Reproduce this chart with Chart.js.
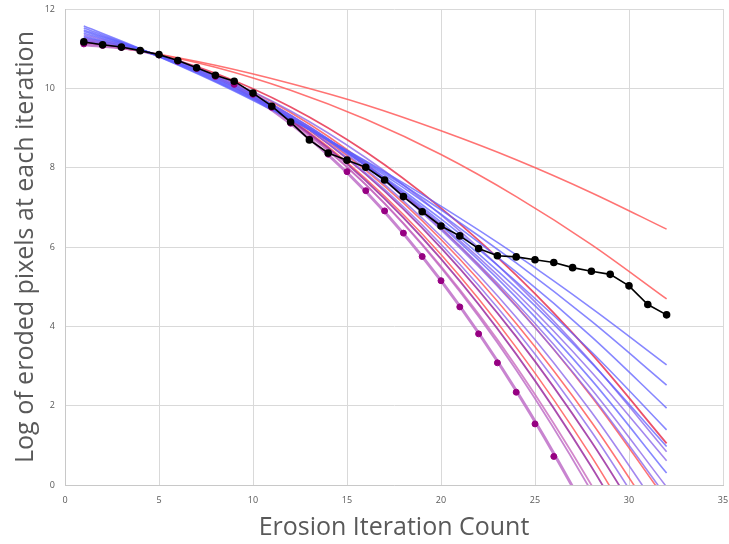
<!DOCTYPE html>
<html>
<head>
<meta charset="utf-8">
<script src="https://cdn.jsdelivr.net/npm/chart.js@4/dist/chart.umd.min.js"></script>
<style>
  html, body { margin: 0; padding: 0; background: #ffffff; }
  #wrap { width: 729px; height: 544px; position: relative; }
</style>
</head>
<body>
<div id="wrap"><canvas id="chart" width="729" height="544"></canvas></div>
<script>
// Erosion iterations and the measured log pixel counts
const iterations = [1,2,3,4,5,6,7,8,9,10,11,12,13,14,15,16,17,18,19,20,21,22,23,24,25,26,27,28,29,30,31,32];
const measuredA = [11.17,11.10,11.04,10.95,10.85,10.70,10.52,10.33,10.18,9.88,9.55,9.15,8.70,8.37,8.19,8.01,7.69,7.27,6.89,6.53,6.28,5.96,5.78,5.75,5.68,5.61,5.48,5.39,5.31,5.02,4.55,4.29];
const measuredB = [11.12,11.08,11.03,10.95,10.84,10.68,10.50,10.30,10.10,9.85,9.52,9.12,8.72,8.34,7.90,7.42,6.91,6.35,5.76,5.15,4.49,3.81,3.08,2.34,1.54,0.72];

// Fitted curves, sampled at these iteration counts
const fitX = [1,4,8,12,16,20,24,28,32];
const fitRed1    = [11.15,10.94,10.58,10.12,9.58,8.93,8.20,7.37,6.45];
const fitRed2    = [11.15,10.94,10.53,9.95,9.22,8.33,7.27,6.06,4.69];
const fitRed3    = [11.20,10.96,10.38,9.53,8.40,6.98,5.29,3.31,1.05];
const fitRed4    = [11.20,10.96,10.34,9.39,8.10,6.48,4.52,2.23,-0.40];
const fitRed5    = [11.18,10.96,10.30,9.22,7.72,5.81,3.47,0.72,-2.46];
const fitRed6    = [11.20,10.96,10.32,9.31,7.93,6.19,4.07,1.59,-1.26];
const fitBlue1   = [11.57,11.00,10.16,9.21,8.17,7.03,5.80,4.46,3.03];
const fitBlue2   = [11.52,10.99,10.18,9.23,8.15,6.94,5.60,4.13,2.52];
const fitBlue3   = [11.47,10.99,10.20,9.24,8.12,6.83,5.37,3.74,1.94];
const fitBlue4   = [11.43,10.99,10.22,9.25,8.08,6.71,5.13,3.36,1.39];
const fitBlue5   = [11.39,10.98,10.24,9.26,8.06,6.63,4.97,3.08,0.97];
const fitBlue6   = [11.35,10.98,10.26,9.28,8.05,6.57,4.84,2.85,0.61];
const fitBlue7   = [11.31,10.97,10.28,9.31,8.06,6.54,4.73,2.65,0.30];
const fitBlue8   = [11.28,10.97,10.29,9.31,8.04,6.47,4.59,2.42,-0.05];
const fitBlue9   = [11.25,10.96,10.31,9.33,8.04,6.43,4.50,2.26,-0.30];
const fitBlue10  = [11.22,10.96,10.31,9.32,7.97,6.27,4.23,1.84,-0.90];
const fitViolet1 = [11.20,10.96,10.31,9.28,7.86,6.07,3.90,1.35,-1.59];
const fitViolet2 = [11.18,10.96,10.31,9.27,7.83,5.98,3.74,1.09,-1.95];
const fitViolet3 = [11.15,10.96,10.29,9.17,7.57,5.51,2.99,0.00,-3.45];
const fitViolet4 = [11.12,10.95,10.31,9.18,7.57,5.48,2.90,-0.16,-3.71];
const fitViolet5 = [11.10,10.95,10.30,9.11,7.40,5.15,2.38,-0.92,-4.75];
const fitViolet6 = [11.26,10.96,10.33,9.43,8.25,6.81,5.09,3.10,0.84];
const fitViolet7 = [11.17,10.96,10.30,9.20,7.67,5.70,3.30,0.46,-2.81];

const xTicks = [0,5,10,15,20,25,30,35];
const yTicks = [0,2,4,6,8,10,12];

// line colours for the fitted curves
const RED = 'rgba(255,90,90,0.85)';
const CRIMSON = 'rgba(232,50,80,0.85)';
const BLUE = 'rgba(95,95,255,0.75)';
const LAVENDER = 'rgba(140,105,235,0.8)';
const PURPLE = 'rgba(155,45,160,0.85)';
const PINK = 'rgba(200,105,190,0.8)';
const ORCHID = 'rgba(190,110,200,0.85)';

const fits = [
  [fitBlue1, BLUE, 1.6], [fitBlue2, BLUE, 1.6], [fitBlue3, BLUE, 1.6], [fitBlue4, BLUE, 1.6],
  [fitBlue5, BLUE, 1.6], [fitBlue6, LAVENDER, 1.6], [fitBlue7, BLUE, 1.6], [fitBlue8, LAVENDER, 1.6],
  [fitBlue9, LAVENDER, 1.6], [fitBlue10, LAVENDER, 1.6],
  [fitViolet6, LAVENDER, 1.6], [fitViolet1, LAVENDER, 1.6], [fitViolet2, PURPLE, 1.8],
  [fitViolet7, PURPLE, 1.8], [fitViolet3, PINK, 1.8], [fitViolet4, ORCHID, 1.8], [fitViolet5, ORCHID, 3],
  [fitRed1, RED, 1.6], [fitRed2, RED, 1.6], [fitRed3, CRIMSON, 1.8], [fitRed4, RED, 1.6],
  [fitRed5, RED, 1.6], [fitRed6, RED, 1.6]
];

const toPoints = (xs, ys) => ys.map((y, i) => ({ x: xs[i], y }));

const datasets = [
  {
    label: 'Series A',
    data: toPoints(iterations, measuredA),
    borderColor: '#000000', backgroundColor: '#000000',
    borderWidth: 1.6, pointRadius: 3, pointHoverRadius: 3, tension: 0
  },
  {
    label: 'Series B',
    data: toPoints(iterations, measuredB),
    borderColor: 'rgb(150,0,130)', backgroundColor: 'rgb(150,0,130)',
    showLine: false, pointRadius: 3, pointHoverRadius: 3
  }
];
fits.forEach(([vals, color, w], i) => {
  datasets.push({
    label: 'Fit ' + (i + 1),
    data: toPoints(fitX, vals),
    borderColor: color, backgroundColor: color,
    borderWidth: w, pointRadius: 0, cubicInterpolationMode: 'monotone'
  });
});

const TEXT = '#595959';
new Chart(document.getElementById('chart'), {
  type: 'line',
  data: { datasets },
  options: {
    responsive: false,
    animation: false,
    layout: { padding: { top: 9, right: 6, left: 0, bottom: 0 } },
    plugins: { legend: { display: false }, tooltip: { enabled: false } },
    scales: {
      x: {
        type: 'linear', min: 0, max: 35,
        afterBuildTicks: s => { s.ticks = xTicks.map(v => ({ value: v })); },
        afterFit: s => { s.height = 59; s.paddingLeft = 0; s.paddingRight = 0; },
        grid: { color: '#d9d9d9', drawTicks: false, lineWidth: 1 },
        border: { color: '#c8c8c8' },
        ticks: { color: TEXT, font: { family: 'Open Sans', size: 9 }, padding: 10, maxRotation: 0 },
        title: { display: true, text: 'Erosion Iteration Count', color: TEXT,
                 font: { family: 'Open Sans', size: 25 }, padding: { top: 0, bottom: 1 } }
      },
      y: {
        type: 'linear', min: 0, max: 12,
        afterBuildTicks: s => { s.ticks = yTicks.map(v => ({ value: v })); },
        afterFit: s => { s.width = 65; s.paddingTop = 0; s.paddingBottom = 0; },
        grid: { color: '#d9d9d9', drawTicks: false, lineWidth: 1 },
        border: { color: '#c8c8c8' },
        ticks: { color: TEXT, font: { family: 'Open Sans', size: 9 }, padding: 10 },
        title: { display: true, text: 'Log of eroded pixels at each iteration', color: TEXT,
                 font: { family: 'Open Sans', size: 25 }, padding: { top: 11, bottom: 0 } }
      }
    }
  }
});
</script>
</body>
</html>
